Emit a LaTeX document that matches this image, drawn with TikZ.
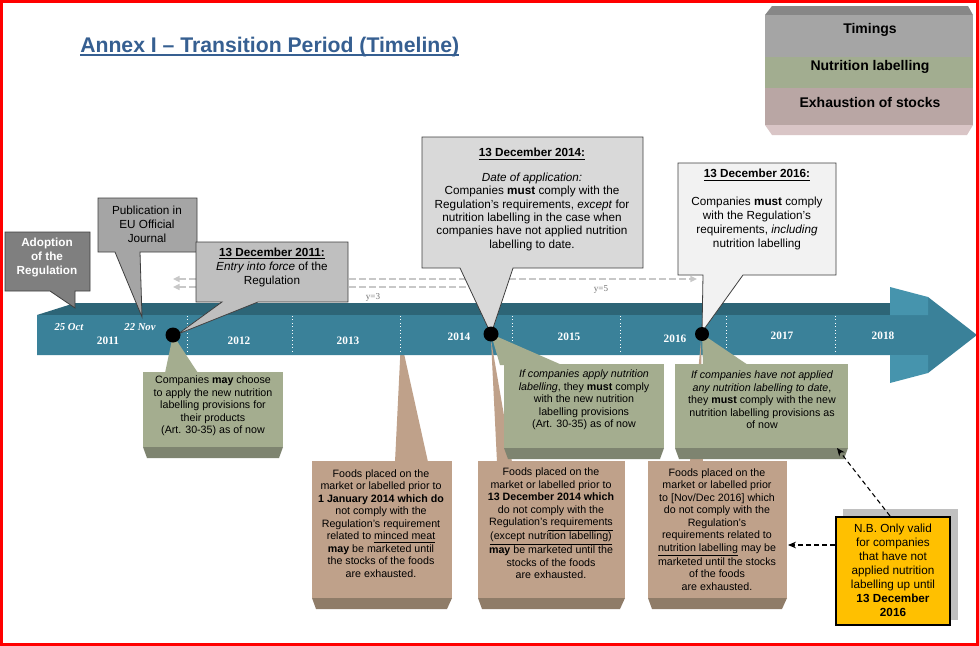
\documentclass[tikz,border=0pt]{standalone}
\usepackage{fontspec}
\setmainfont{Liberation Sans}
\newfontfamily\yrfont{Liberation Serif}
\usetikzlibrary{arrows.meta}
\definecolor{titleblue}{HTML}{365F91}
\definecolor{lgTop}{HTML}{878787}
\definecolor{lgGray}{HTML}{A5A5A5}
\definecolor{lgGreen}{HTML}{A2AD90}
\definecolor{lgBrown}{HTML}{B9A6A4}
\definecolor{lgPink}{HTML}{D9C5C6}
\definecolor{tealBody}{HTML}{3A8199}
\definecolor{tealTop}{HTML}{2D6577}
\definecolor{tealFlap}{HTML}{4694AD}
\definecolor{cAdopt}{HTML}{7F7F7F}
\definecolor{cPub}{HTML}{A5A5A5}
\definecolor{cEleven}{HTML}{BFBFBF}
\definecolor{cFourteen}{HTML}{D9D9D9}
\definecolor{cSixteen}{HTML}{F2F2F2}
\definecolor{cLine}{HTML}{3F3F3F}
\definecolor{grn}{HTML}{A4AD8F}
\definecolor{grnDark}{HTML}{7E8470}
\definecolor{brn}{HTML}{BFA18A}
\definecolor{brnDark}{HTML}{8F7C68}
\definecolor{arrowgray}{HTML}{C8C8C8}
\definecolor{nbyellow}{HTML}{FFC000}
\definecolor{nbshadow}{HTML}{C0C0C0}
\tikzset{
  txt/.style={align=center, inner sep=0pt},
  callfnt/.style={font=\fontsize{8.8}{10.4}\selectfont},
  boxfnt/.style={font=\fontsize{8}{9.4}\selectfont},
  legtxt/.style={txt, font=\fontsize{10.5}{12}\selectfont\bfseries},
  yeartxt/.style={txt, text=white, font=\fontsize{8.5}{10}\selectfont\yrfont\bfseries},
  datetxt/.style={txt, text=white, font=\fontsize{8}{10}\selectfont\yrfont\bfseries\itshape},
  ylab/.style={txt, text=black!55, font=\fontsize{6.8}{8}\selectfont\yrfont},
  callshape/.style={draw=cLine, line width=0.6pt, line join=miter},
  grayarrow/.style={draw=arrowgray, line width=1.1pt, dash pattern=on 5pt off 2.5pt,
     {Triangle[length=5pt,width=4.5pt,fill=arrowgray]}-{Triangle[length=5pt,width=4.5pt,fill=arrowgray]}},
  sep/.style={draw=white, line width=0.6pt, dotted},
  nbarrow/.style={draw=black, line width=0.8pt, dash pattern=on 3.5pt off 2.5pt, -{Stealth[length=6pt,width=5pt]}},
  dotmark/.style={fill=black}
}
\begin{document}
\begin{tikzpicture}[x=0.75pt,y=-0.75pt]
\useasboundingbox (0,0) rectangle (979,646);
\fill[white] (0,0) rectangle (979,646);

% title
\node[anchor=base west, inner sep=0pt, text=titleblue, font=\fontsize{15.9}{18}\selectfont\bfseries] (title) at (80,52) {Annex I – Transition Period (Timeline)};
\draw[titleblue, line width=1.1pt] ([yshift=-2.3pt]title.base west) -- ([yshift=-2.3pt]title.base east);

% legend
\fill[lgTop] (765,15) -- (772,6) -- (968,6) -- (973,15) -- cycle;
\fill[lgGray] (765,15) rectangle (973,57);
\fill[lgGreen] (765,57) rectangle (973,88);
\fill[lgBrown] (765,88) rectangle (973,125);
\fill[lgPink] (765,125) -- (973,125) -- (967,135) -- (772,135) -- cycle;
\node[legtxt] (lgT) at (870,30) {Timings};
\node[legtxt] (lgN) at (870,67) {Nutrition labelling};
\node[legtxt] (lgE) at (870,102) {Exhaustion of stocks};

% gray dashed arrows
\coordinate (dA1) at (173,279); \coordinate (dA2) at (697,279);
\coordinate (dB1) at (173,287); \coordinate (dB2) at (482,287);
\draw[grayarrow] (dA1) -- (dA2);
\draw[grayarrow] (dB1) -- (dB2);
\node[ylab] (y3) at (373,297) {y=3};
\node[ylab] (y5) at (601,290) {y=5};

% brown pointer behind the bar
\fill[brn] (401,340) -- (395,462) -- (428,462) -- cycle;

% timeline bar
\fill[tealTop] (37,315) -- (75,303) -- (890,303) -- (890,315) -- cycle;
\fill[tealBody] (37,315) -- (928,315) -- (928,297) -- (977,335) -- (928,373) -- (928,355) -- (37,355) -- cycle;
\fill[tealFlap] (890,287) -- (928,297) -- (928,315) -- (890,315) -- cycle;
\fill[tealFlap] (890,355) -- (928,355) -- (928,373) -- (890,383) -- cycle;
\foreach \sx in {187,292,400,512,620,726,835} {
  \draw[sep] (\sx,316) -- (\sx,351);
}
\node[yeartxt] (y2011) at (108,341) {2011};
\node[yeartxt] (y2012) at (239,341) {2012};
\node[yeartxt] (y2013) at (348,341) {2013};
\node[yeartxt] (y2014) at (459,337) {2014};
\node[yeartxt] (y2015) at (569,337) {2015};
\node[yeartxt] (y2016) at (675,339) {2016};
\node[yeartxt] (y2017) at (782,336) {2017};
\node[yeartxt] (y2018) at (883,336) {2018};
\node[datetxt] (oct) at (69,327) {25 Oct};
\node[datetxt] (nov) at (140,327) {22 Nov};

% callouts
\draw[callshape, fill=cAdopt] (5,232) -- (90,232) -- (90,291) -- (75,291) -- (75,308) -- (50,291) -- (5,291) -- cycle;
\node[txt, text=white, font=\fontsize{8.8}{10.6}\selectfont\bfseries] (adopt) at (47,257.5) {Adoption\\of the\\Regulation};

\draw[callshape, fill=cPub] (98,198) -- (197,198) -- (197,252) -- (140,252) -- (142,317) -- (115,252) -- (98,252) -- cycle;
\node[txt, callfnt] (publ) at (147,224) {Publication in\\EU Official\\Journal};

\draw[callshape, fill=cEleven] (196,242) -- (348,242) -- (348,302) -- (258,302) -- (178,334) -- (222,302) -- (196,302) -- cycle;
\node[txt, callfnt] (c2011) at (272,267.5) {\underline{\textbf{13 December 2011:}}\\\textit{Entry into force} of the\\Regulation};

\draw[callshape, fill=cFourteen] (422,137) -- (643,137) -- (643,268) -- (513,268) -- (491,334) -- (460,268) -- (422,268) -- cycle;
\node[txt, font=\fontsize{8.8}{10}\selectfont] (c2014) at (532,199.5) {\underline{\textbf{13 December 2014:}}\\[8.5pt]\textit{Date of application:}\\Companies \textbf{must} comply with the\\Regulation’s requirements, \textit{except} for\\nutrition labelling in the case when\\companies have not applied nutrition\\labelling to date.};

\draw[callshape, fill=cSixteen] (678,163) -- (836,163) -- (836,275) -- (743,275) -- (702,332) -- (703,275) -- (678,275) -- cycle;
\node[txt, font=\fontsize{8.8}{10.4}\selectfont] (c2016) at (757,209.5) {\underline{\textbf{13 December 2016:}}\\[10.4pt]Companies \textbf{must} comply\\with the Regulation’s\\requirements, \textit{including}\\nutrition labelling};

% brown pointers from dots
\fill[brn] (491,340) -- (497,462) -- (512,462) -- cycle;
\fill[brn] (701,340) -- (690,462) -- (703,462) -- cycle;

% green boxes
\fill[grn] (173,335) -- (165,373) -- (198,373) -- cycle;
\fill[grn] (143,372) rectangle (283,447);
\fill[grnDark] (143,447) -- (283,447) -- (279,458) -- (147,458) -- cycle;
\node[txt, boxfnt] (g1) at (213,406) {Companies \textbf{may} choose\\to apply the new nutrition\\labelling provisions for\\their products\\(Art. 30-35) as of now};

\fill[grn] (491,334) -- (500,365) -- (562,365) -- cycle;
\fill[grn] (504,364) rectangle (664,448);
\fill[grnDark] (504,448) -- (664,448) -- (660,459) -- (508,459) -- cycle;
\node[txt, boxfnt] (g2) at (584,400) {\textit{If companies apply nutrition}\\\textit{labelling}, they \textbf{must} comply\\with the new nutrition\\labelling provisions\\(Art. 30-35) as of now};

\fill[grn] (702,334) -- (703,365) -- (748,365) -- cycle;
\fill[grn] (675,364) rectangle (848,448);
\fill[grnDark] (675,448) -- (848,448) -- (844,459) -- (679,459) -- cycle;
\node[txt, boxfnt] (g3) at (762,400) {\textit{If companies have not applied}\\\textit{any nutrition labelling to date},\\they \textbf{must} comply with the new\\nutrition labelling provisions as\\of now};

% brown boxes
\fill[brn] (312,461) rectangle (452,598);
\fill[brnDark] (312,598) -- (452,598) -- (447,609) -- (316,609) -- cycle;
\node[txt, boxfnt] (b1) at (381,523.5) {Foods placed on the\\market or labelled prior to\\\textbf{1 January 2014 which do}\\not comply with the\\Regulation’s requirement\\related to \underline{minced meat}\\\textbf{may} be marketed until\\the stocks of the foods\\are exhausted.};

\fill[brn] (478,461) rectangle (625,598);
\fill[brnDark] (478,598) -- (625,598) -- (620,609) -- (482,609) -- cycle;
\node[txt, boxfnt] (b2) at (551,523.5) {Foods placed on the\\market or labelled prior to\\\textbf{13 December 2014 which}\\do not comply with the\\Regulation’s\underline{ requirements}\\\underline{(except nutrition labelling)}\\\textbf{may} be marketed until the\\stocks of the foods\\are exhausted.};

\fill[brn] (648,461) rectangle (787,598);
\fill[brnDark] (648,598) -- (787,598) -- (782,609) -- (652,609) -- cycle;
\node[txt, boxfnt] (b3) at (717,529.5) {Foods placed on the\\market or labelled prior\\to [Nov/Dec 2016] which\\do not comply with the\\Regulation’s\\requirements related to\\\underline{nutrition labelling} may be\\marketed until the stocks\\of the foods\\are exhausted.};

% dots
\fill[dotmark] (173,335) circle (7.5);
\fill[dotmark] (491,334) circle (7.5);
\fill[dotmark] (702,334) circle (7);

% N.B. box
\fill[nbshadow] (843,509) rectangle (958,620);
\draw[fill=nbyellow, draw=black, line width=0.9pt] (836,517) rectangle (950,625);
\node[txt, font=\fontsize{8.8}{10.5}\selectfont] (nb) at (893,570.5) {N.B. Only valid\\for companies\\that have not\\applied nutrition\\labelling up until\\\textbf{13 December}\\\textbf{2016}};

\coordinate (nbL) at (835,545); \coordinate (b3R) at (788,545);
\coordinate (nbT) at (890,516); \coordinate (g3C) at (837,448);
\draw[nbarrow] (nbL) -- (b3R);
\draw[nbarrow] (nbT) -- (g3C);

% frame
\draw[red, line width=2.3pt] (1.5,1.5) rectangle (977.5,644.5);
\end{tikzpicture}
\end{document}
